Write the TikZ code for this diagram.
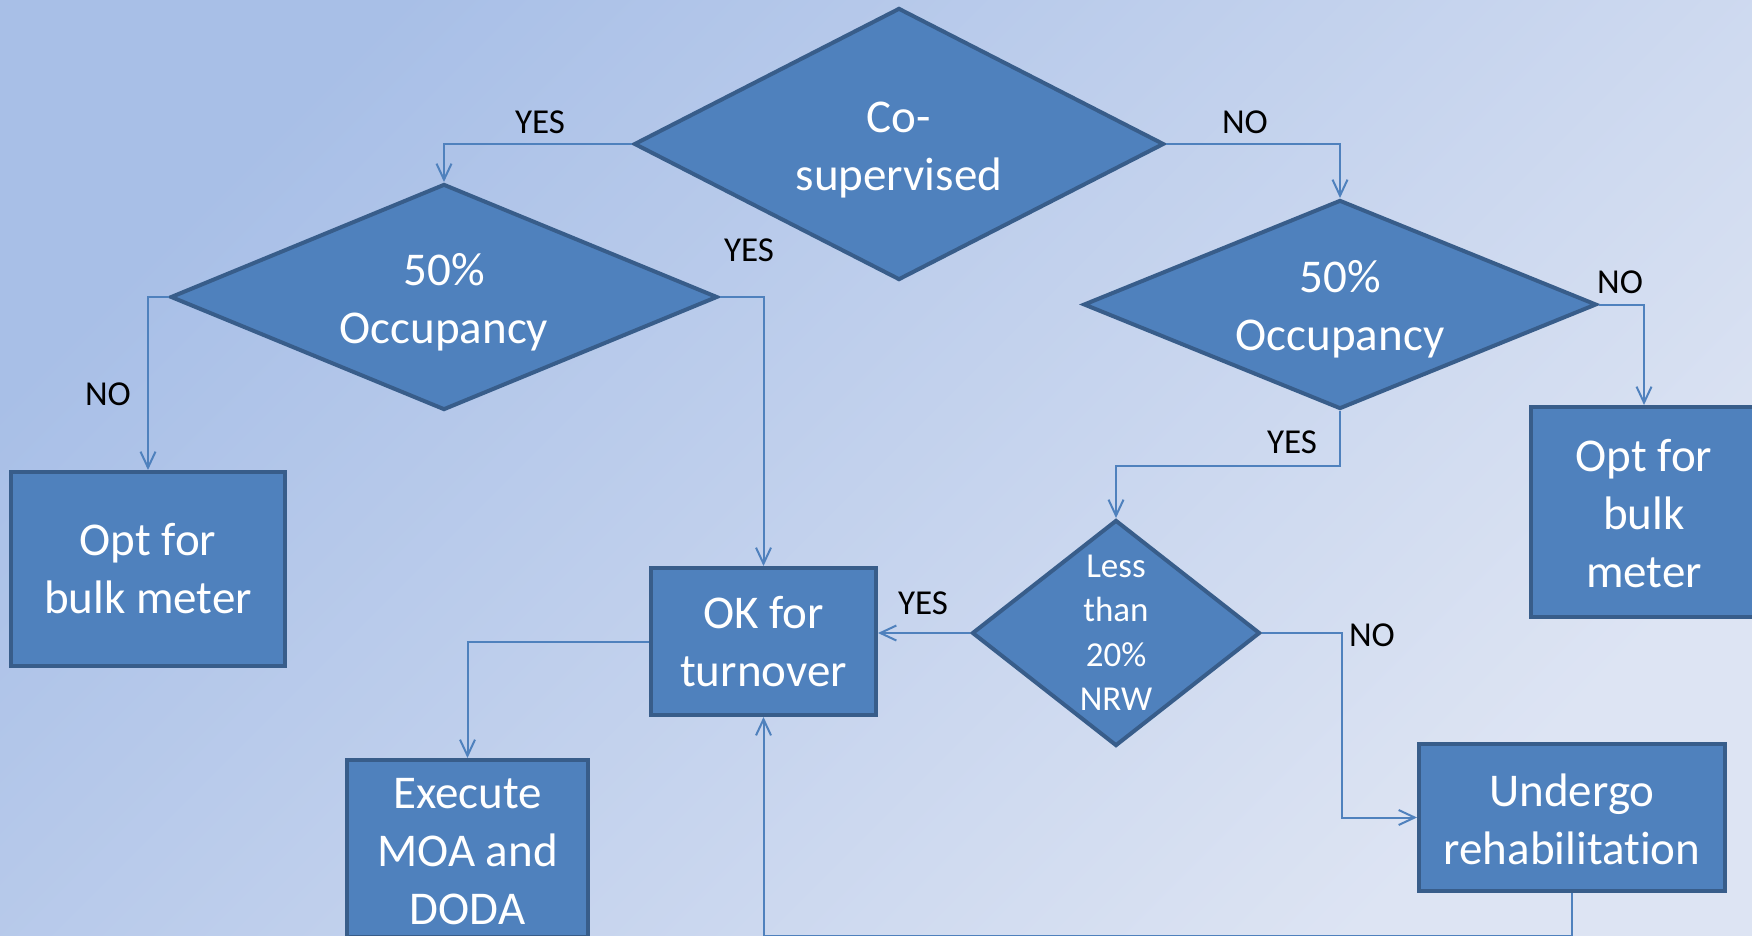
\documentclass[tikz,border=0pt]{standalone}
\usepackage{fontspec}
\setmainfont{Carlito}[Ligatures=NoCommon]
\usetikzlibrary{shapes.geometric,arrows.meta}
\definecolor{bgA}{HTML}{A8BFE7}
\definecolor{bgB}{HTML}{DDE4F3}
\definecolor{nodefill}{HTML}{4F81BD}
\definecolor{nodeline}{HTML}{385D8A}
\definecolor{conn}{HTML}{4F81BD}
\newcommand{\downstrut}{\rule{0pt}{42pt}}
\begin{document}
\begin{tikzpicture}[x=1pt,y=-1pt,
  decision/.style={shape=diamond, draw=nodeline, fill=nodefill, line width=4pt,
    text=white, align=center, inner sep=-15pt, font=\fontsize{47}{58}\selectfont},
  smalldecision/.style={decision, font=\fontsize{35}{44.5}\selectfont},
  procbox/.style={shape=rectangle, draw=nodeline, fill=nodefill, line width=4pt,
    text=white, align=center, inner sep=0pt, font=\fontsize{47}{58}\selectfont},
  flow/.style={draw=conn, line width=2pt, -{Straight Barb[length=16pt,width=15pt,line width=2pt]}},
  lbl/.style={text=black, inner sep=0pt, font=\fontsize{35}{42}\selectfont}
]
\useasboundingbox (0,0) rectangle (1752,936);
\shade[top color=bgA, bottom color=bgB, shading angle=45] (0,0) rectangle (1752,936);

% decisions
\node[decision, minimum width=530pt, minimum height=272pt, shape aspect=1.95] (cs) at (899,144) {\downstrut Co-\\supervised};
\node[decision, minimum width=547pt, minimum height=226pt, shape aspect=2.42] (ld) at (444,297) {\downstrut 50\%\\Occupancy};
\node[decision, minimum width=513pt, minimum height=209pt, shape aspect=2.45] (rd) at (1340,304.5) {\downstrut 50\%\\Occupancy};
\node[smalldecision, minimum width=288pt, minimum height=226pt, shape aspect=1.27, inner sep=-25pt] (nrw) at (1116,633) {Less\\than\\20\%\\NRW};

% boxes
\node[procbox, minimum width=274pt, minimum height=194pt] (optl) at (148,569) {Opt for\\bulk meter};
\node[procbox, minimum width=225pt, minimum height=147pt] (ok) at (763.5,641.5) {OK for\\turnover};
\node[procbox, minimum width=241pt, minimum height=177pt] (exe) at (467.5,848.5) {\rule{0pt}{36pt}Execute\\MOA and\\DODA};
\node[procbox, minimum width=226pt, minimum height=210pt] (optr) at (1644,512) {\rule{0pt}{36pt}Opt for\\bulk\\meter};
\node[procbox, minimum width=306pt, minimum height=147pt] (und) at (1572,817.5) {\rule{0pt}{36pt}Undergo\\rehabilitation};

% connectors
\draw[flow] (cs.west) -| (ld.north);
\draw[flow] (cs.east) -| (rd.north);
\draw[flow] (ld.east) -| (ok.north);
\draw[flow] (ld.west) -| (optl.north);
\draw[flow] (rd.east) -| (optr.north);
\draw[flow] (rd.south) -- ++(0,55) -| (nrw.north);
\draw[flow] (nrw.west) -- (nrw.west -| ok.east);
\draw[flow] (nrw.east) -- ++(80,0) |- (und.west);
\draw[flow] (ok.west) -| (exe.north);
\draw[flow] (und.south) -- ++(0,43) -| (ok.south);

% labels
\node[lbl] (l1) at (540,122) {YES};
\node[lbl] (l2) at (1245,122) {NO};
\node[lbl] (l3) at (749,250) {YES};
\node[lbl] (l4) at (108,394) {NO};
\node[lbl] (l5) at (1620,282) {NO};
\node[lbl] (l6) at (1292,442) {YES};
\node[lbl] (l7) at (923,603) {YES};
\node[lbl] (l8) at (1372,635) {NO};
\end{tikzpicture}
\end{document}
